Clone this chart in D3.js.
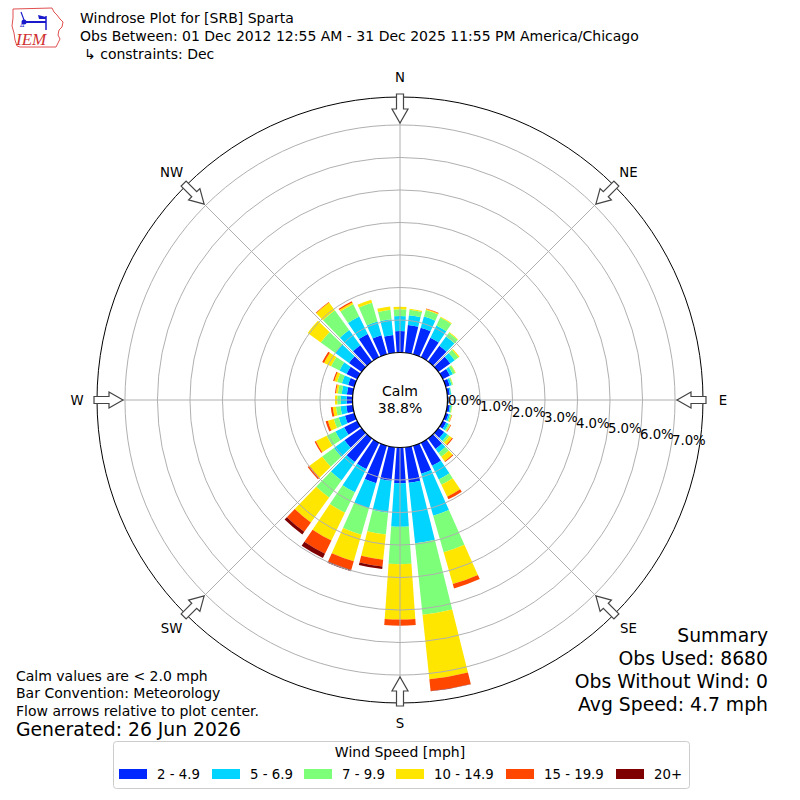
<!DOCTYPE html>
<html><head><meta charset="utf-8">
<script src="https://cdn.jsdelivr.net/npm/d3@7"></script>
<style>body{margin:0;background:#fff;} svg{display:block;font-family:"DejaVu Sans";}</style>
</head><body><svg id="c" width="800" height="800"></svg>
<script>
// ---------------- data ----------------
const directions = d3.range(0, 360, 10);
const speedBins = ["2 - 4.9", "5 - 6.9", "7 - 9.9", "10 - 14.9", "15 - 19.9", "20+"];
const binColors = ["#0028ff", "#00d4ff", "#7dff7a", "#ffe600", "#ff4700", "#7f0000"];
// percent frequency per 10-degree direction bin (0,10,...,350)
const spd2to5   = [0.66,0.86,0.85,0.67,0.60,0.45,0.25,0.13,0.08,0.04,0.08,0.09,0.12,0.22,0.40,0.79,0.90,1.10,1.10,1.04,1.20,0.90,0.90,0.65,0.45,0.30,0.20,0.18,0.18,0.20,0.37,0.48,0.62,0.80,0.61,0.55];
const spd5to7   = [0.46,0.30,0.36,0.42,0.35,0.17,0.10,0.06,0.04,0.01,0.04,0.05,0.08,0.13,0.15,0.47,1.34,1.87,1.34,0.99,0.80,0.80,0.70,0.40,0.30,0.20,0.18,0.18,0.16,0.20,0.24,0.52,0.58,0.60,0.44,0.49];
const spd7to10  = [0.21,0.17,0.21,0.27,0.15,0.14,0.08,0.04,0.01,0.00,0.03,0.04,0.05,0.07,0.15,0.18,1.17,2.21,1.15,0.67,0.85,0.70,0.65,0.45,0.30,0.16,0.14,0.11,0.12,0.15,0.29,0.55,0.75,0.42,0.60,0.29];
const spd10to15 = [0.08,0.03,0.03,0.03,0.02,0.04,0.02,0.01,0.00,0.00,0.01,0.02,0.02,0.10,0.17,0.41,1.02,2.00,1.70,0.78,0.85,0.95,0.95,0.48,0.37,0.19,0.10,0.07,0.06,0.09,0.24,0.50,0.30,0.06,0.10,0.10];
const spd15to20 = [0.00,0.00,0.02,0.00,0.00,0.00,0.00,0.00,0.00,0.00,0.00,0.01,0.02,0.03,0.03,0.09,0.14,0.36,0.19,0.21,0.28,0.45,0.35,0.07,0.04,0.07,0.06,0.00,0.03,0.04,0.06,0.00,0.02,0.04,0.00,0.00];
const spd20up   = [0.00,0.00,0.00,0.00,0.00,0.00,0.00,0.00,0.00,0.00,0.00,0.00,0.00,0.00,0.00,0.00,0.00,0.01,0.00,0.08,0.04,0.15,0.10,0.00,0.00,0.00,0.00,0.00,0.00,0.00,0.00,0.00,0.00,0.00,0.00,0.00];
const ringTicks = [0, 1, 2, 3, 4, 5, 6, 7];
const compassLabels = ["N", "NE", "E", "SE", "S", "SW", "W", "NW"];
const calmPct = 38.8;
const titleLines = ["Windrose Plot for [SRB] Sparta",
  "Obs Between: 01 Dec 2012 12:55 AM - 31 Dec 2025 11:55 PM America/Chicago",
  "\u21B3 constraints: Dec"];
const summaryLines = ["Summary", "Obs Used: 8680", "Obs Without Wind: 0", "Avg Speed: 4.7 mph"];
const noteLines = ["Calm values are < 2.0 mph", "Bar Convention: Meteorology", "Flow arrows relative to plot center."];
const generatedText = "Generated: 26 Jun 2026";
const legendTitle = "Wind Speed [mph]";

// ---------------- chart ----------------
const svg = d3.select("#c");
const cx = 400, cy = 400;
const rMaxVal = 7.86;
const r = d3.scaleLinear().domain([0, rMaxVal]).range([47.5, 303]);
const deg = Math.PI / 180;

const keys = ["b0","b1","b2","b3","b4","b5"];
const series = [spd2to5, spd5to7, spd7to10, spd10to15, spd15to20, spd20up];
const table = directions.map((d, i) => {
  const o = {dir: d};
  keys.forEach((k, j) => o[k] = series[j][i]);
  return o;
});
const stacked = d3.stack().keys(keys)(table);

const g = svg.append("g").attr("transform", `translate(${cx},${cy})`);

const halfW = 4 * deg;
const arc = d3.arc()
  .innerRadius(d => r(d[0]))
  .outerRadius(d => r(d[1]))
  .startAngle(d => d.data.dir * deg - halfW)
  .endAngle(d => d.data.dir * deg + halfW);

stacked.forEach((s, j) => {
  g.append("g").selectAll("path")
    .data(s.filter(d => d[1] - d[0] > 0))
    .join("path")
    .attr("d", arc)
    .attr("fill", binColors[j]);
});

// grid above bars
g.append("g").selectAll("circle")
  .data(ringTicks.slice(1))
  .join("circle")
  .attr("r", d => r(d))
  .attr("fill", "none")
  .attr("stroke", "#b0b0b0")
  .attr("stroke-width", 1);

g.append("g").selectAll("line")
  .data(d3.range(0, 360, 45))
  .join("line")
  .attr("x1", 0).attr("y1", 0)
  .attr("x2", d => r(rMaxVal) * Math.sin(d * deg))
  .attr("y2", d => -r(rMaxVal) * Math.cos(d * deg))
  .attr("stroke", "#b0b0b0")
  .attr("stroke-width", 1);

// outer frame
g.append("circle").attr("r", r(rMaxVal)).attr("fill", "none").attr("stroke", "#000").attr("stroke-width", 1);

// calm circle
g.append("circle").attr("r", r(0)).attr("fill", "#fff").attr("stroke", "#000").attr("stroke-width", 1.2);
g.append("text").attr("x", 0).attr("y", -4).attr("text-anchor", "middle")
  .attr("font-size", 14).text("Calm");
g.append("text").attr("x", 0).attr("y", 13).attr("text-anchor", "middle")
  .attr("font-size", 14).text(calmPct.toFixed(1) + "%");

// radial tick labels
const la = 10 * deg;
g.append("g").selectAll("text")
  .data(ringTicks)
  .join("text")
  .attr("x", d => r(d) * Math.cos(la) + 18)
  .attr("y", d => r(d) * Math.sin(la) - 8 + 5)
  .attr("text-anchor", "middle")
  .attr("font-size", 13.3)
  .text(d => d.toFixed(1) + "%");

// arrows
const tTail = 306, tBase = 291, tTip = 277, sh = 3.5, hh = 8;
const arrowPts = [[-sh,-tTail],[-sh,-tBase],[-hh,-tBase],[0,-tTip],[hh,-tBase],[sh,-tBase],[sh,-tTail]];
g.append("g").selectAll("path")
  .data(d3.range(0, 360, 45))
  .join("path")
  .attr("transform", d => `rotate(${d})`)
  .attr("d", d3.line()(arrowPts) + "Z")
  .attr("fill", "#fff")
  .attr("stroke", "#444")
  .attr("stroke-width", 1.2);

// compass labels
g.append("g").selectAll("text")
  .data(compassLabels)
  .join("text")
  .attr("x", (d, i) => 323 * Math.sin(i * 45 * deg))
  .attr("y", (d, i) => -323 * Math.cos(i * 45 * deg) + 5)
  .attr("text-anchor", "middle")
  .attr("font-size", 13.3)
  .text(d => d);

// titles
svg.append("g").selectAll("text")
  .data(titleLines)
  .join("text")
  .attr("x", (d, i) => i === 2 ? 84 : 80)
  .attr("y", (d, i) => 23 + i * 18)
  .attr("font-size", 14)
  .text(d => d);

// summary
svg.append("g").selectAll("text")
  .data(summaryLines)
  .join("text")
  .attr("x", 768)
  .attr("y", (d, i) => 642 + i * 23)
  .attr("text-anchor", "end")
  .attr("font-size", 18.8)
  .text(d => d);

// notes
svg.append("g").selectAll("text")
  .data(noteLines)
  .join("text")
  .attr("x", 16)
  .attr("y", (d, i) => 680.5 + i * 17.5)
  .attr("font-size", 14)
  .text(d => d);
svg.append("text").attr("x", 16).attr("y", 735.5).attr("font-size", 18.8).text(generatedText);

// legend
const lg = svg.append("g");
lg.append("rect").attr("x", 113.5).attr("y", 741.5).attr("width", 576).attr("height", 47)
  .attr("rx", 3).attr("fill", "#fff").attr("stroke", "#cccccc");
lg.append("text").attr("x", 400).attr("y", 757).attr("text-anchor", "middle").attr("font-size", 14).text(legendTitle);
const swX = [119, 212, 304, 396, 506, 616];
const lgItems = lg.selectAll("g.item").data(speedBins).join("g").attr("class", "item")
  .attr("transform", (d, i) => `translate(${swX[i]},769)`);
lgItems.append("rect").attr("width", 28).attr("height", 10).attr("fill", (d, i) => binColors[i]);
lgItems.append("text").attr("x", 38).attr("y", 10).attr("font-size", 13.3).text(d => d);

// logo
const logo = svg.append("g");
logo.append("path")
  .attr("d", "M13,9 L52,8 L54,12 L57,15 L60,19 L63,22 L62,27 L59,30 L58,35 L60,39 L58,43 L56,47 L20,47 L17,46 L15,40 L14,33 L12,26 L13,18 Z")
  .attr("fill", "none").attr("stroke", "#e05050").attr("stroke-width", 1);
logo.append("line").attr("x1", 22).attr("y1", 22).attr("x2", 46).attr("y2", 22).attr("stroke", "#1a1acc").attr("stroke-width", 2);
logo.append("circle").attr("cx", 24).attr("cy", 22).attr("r", 2.5).attr("fill", "#1a1acc");
logo.append("line").attr("x1", 21).attr("y1", 12).attr("x2", 24).attr("y2", 20).attr("stroke", "#1a1acc").attr("stroke-width", 1.2);
logo.append("line").attr("x1", 46).attr("y1", 16).attr("x2", 46).attr("y2", 30).attr("stroke", "#1a1acc").attr("stroke-width", 1.5);
logo.append("path").attr("d", "M38,15 L46,17 L46,19 L39,19 Z").attr("fill", "#1a1acc");
logo.append("text").attr("x", 20).attr("y", 27).attr("font-size", 6).attr("fill", "#1a1acc").text("\u0394");
logo.append("text").attr("x", 16).attr("y", 45).attr("font-family", "Liberation Serif")
  .attr("font-style", "italic").attr("font-size", 17).attr("fill", "#d03030").text("IEM");
</script></body></html>
